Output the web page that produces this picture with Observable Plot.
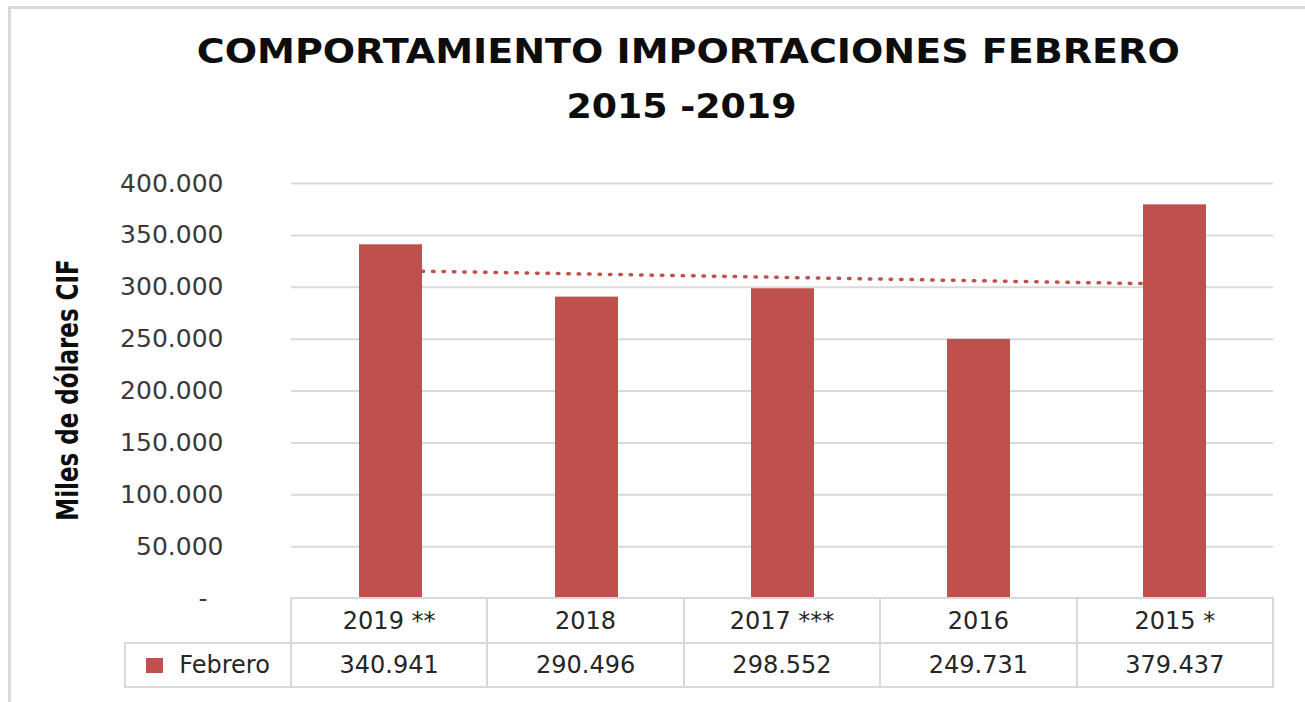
<!DOCTYPE html>
<html>
<head>
<meta charset="utf-8">
<script src="https://cdn.jsdelivr.net/npm/d3@7"></script>
<script src="https://cdn.jsdelivr.net/npm/@observablehq/plot@0.6"></script>
<style>
  html, body { margin: 0; padding: 0; background: #fff; }
  body { width: 1305px; height: 702px; position: relative; overflow: hidden; font-family: "DejaVu Sans", sans-serif; }
  .frameTop { position: absolute; left: 8px; top: 6px; width: 1297px; height: 3px; background: #d9d9d9; }
  .frameLeft { position: absolute; left: 8px; top: 6px; width: 3px; height: 696px; background: #d9d9d9; }
  .title { position: absolute; white-space: nowrap; font-family: "DejaVu Sans", sans-serif; font-weight: bold; font-size: 33px; line-height: 33px; color: #0d0d0d; transform-origin: center center; }
  #ytitle { position: absolute; left: 68px; top: 390px; white-space: nowrap; font-family: "DejaVu Sans", sans-serif; font-weight: bold; font-size: 23px; line-height: 23px; color: #0d0d0d; transform: translate(-50%, -50%) rotate(-90deg) scale(1, 1.3); }
  #chart { position: absolute; left: 0; top: 160px; }
  .cell { position: absolute; box-sizing: border-box; border: 2px solid #d9d9d9; display: flex; align-items: center; justify-content: center; font-family: "DejaVu Sans", sans-serif; font-size: 24px; color: #262626; white-space: nowrap; background: transparent; }
  .swatch { display: inline-block; width: 17px; height: 15px; margin-right: 16px; }
</style>
</head>
<body>
<div class="frameTop"></div>
<div class="frameLeft"></div>
<div id="t1" class="title">COMPORTAMIENTO IMPORTACIONES FEBRERO</div>
<div id="t2" class="title">2015 -2019</div>
<div id="ytitle">Miles de dólares CIF</div>
<div id="chart"></div>
<div id="table"></div>
<script>
// ---- data ----
const years = ["2019 **", "2018", "2017 ***", "2016", "2015 *"];
const values = [340941, 290496, 298552, 249731, 379437];
const seriesName = "Febrero";
const yTicks = [0, 50000, 100000, 150000, 200000, 250000, 300000, 350000, 400000];
const trendYears = ["2019 **", "2015 *"];
const trendValues = [316000, 303000];
const barColor = "#C0504D";

const numFmt = v => d3.format(",")(v).replace(/,/g, ".");
const tickFmt = v => v === 0 ? "-\u00a0\u00a0" : numFmt(v);

const data = years.map((year, i) => ({year, value: values[i]}));
const trend = trendYears.map((year, i) => ({year, value: trendValues[i]}));

// ---- plot ----
const W = 1305, H = 450;
const mL = 291, mR = 32, mT = 23, mB = 12;
const plot = Plot.plot({
  width: W,
  height: H,
  marginTop: mT,
  marginBottom: mB,
  marginLeft: mL,
  marginRight: mR,
  style: {fontFamily: "DejaVu Sans, sans-serif", fontSize: "25px", color: "#3a3a3a", background: "transparent", overflow: "visible"},
  x: {domain: years, paddingInner: 0.68, paddingOuter: 0.34, axis: null},
  y: {domain: [0, 400000], axis: null},
  marks: [
    Plot.gridY(yTicks.filter(t => t > 0), {stroke: "#d9d9d9", strokeOpacity: 1, strokeWidth: 2}),
    Plot.axisY(yTicks, {tickSize: 0, tickPadding: 68, tickFormat: tickFmt, label: null}),
    Plot.line(trend, {x: "year", y: "value", stroke: barColor, strokeWidth: 3.5, strokeDasharray: "1.5 8.9", strokeLinecap: "round"}),
    Plot.barY(data, {x: "year", y: "value", fill: barColor})
  ]
});
document.getElementById("chart").appendChild(plot);

// ---- titles: fit widths ----
function fitTitle(id, x0, x1, baseline) {
  const el = document.getElementById(id);
  const w = el.getBoundingClientRect().width;
  const target = x1 - x0;
  const s = target / w;
  const cx = (x0 + x1) / 2;
  el.style.left = (cx - w / 2) + "px";
  el.style.top = (baseline - 27.9) + "px";
  el.style.transform = `scaleX(${s})`;
}
fitTitle("t1", 197, 1180, 63);
fitTitle("t2", 566, 796, 118);

// ---- data table ----
const table = document.getElementById("table");
const colX0 = mL, colX1 = W - mR;
const step = (colX1 - colX0) / years.length;
const legendX0 = 125;
const rowY = [598, 643, 687];
function cell(x0, x1, y0, y1, html) {
  const d = document.createElement("div");
  d.className = "cell";
  d.style.left = (x0 - 1) + "px";
  d.style.width = (x1 - x0 + 2) + "px";
  d.style.top = (y0 - 1) + "px";
  d.style.height = (y1 - y0 + 2) + "px";
  d.innerHTML = html;
  table.appendChild(d);
}
years.forEach((y, i) => {
  const x0 = colX0 + i * step, x1 = colX0 + (i + 1) * step;
  cell(x0, x1, rowY[0], rowY[1], y);
  cell(x0, x1, rowY[1], rowY[2], numFmt(values[i]));
});
cell(legendX0, colX0, rowY[1], rowY[2], `<span class="swatch" style="background:${barColor}"></span>${seriesName}`);
</script>
</body>
</html>
